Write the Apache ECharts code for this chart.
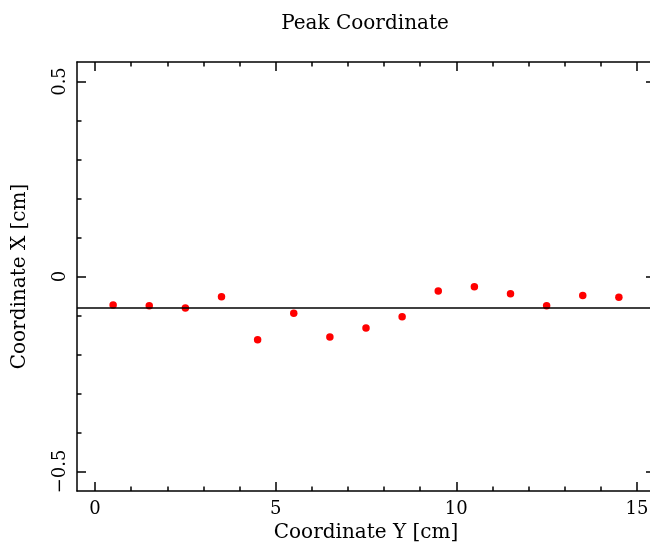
<!DOCTYPE html>
<html>
<head>
<meta charset="utf-8">
<script src="https://cdn.jsdelivr.net/npm/echarts@6/dist/echarts.min.js"></script>
<style>html,body{margin:0;padding:0;background:#fff}#c{width:650px;height:542px}</style>
</head>
<body>
<div id="c"></div>
<script>
const xPositions = [0.5, 1.5, 2.5, 3.5, 4.5, 5.5, 6.5, 7.5, 8.5, 9.5, 10.5, 11.5, 12.5, 13.5, 14.5];
const yValues = [-0.073, -0.075, -0.081, -0.052, -0.162, -0.094, -0.155, -0.132, -0.103, -0.037, -0.026, -0.044, -0.075, -0.049, -0.053];
const lineLevel = -0.08;
const xMajorTicks = [0, 5, 10, 15];
const xMinorTicks = [0,1,2,3,4,5,6,7,8,9,10,11,12,13,14,15];
const yMajorTicks = [-0.5, 0, 0.5];
const yMinorTicks = [-0.5,-0.4,-0.3,-0.2,-0.1,0,0.1,0.2,0.3,0.4,0.5];
const xRange = [-0.5, 15.5];
const yRange = [-0.55, 0.55];

const FONT = 'DejaVu Serif';
const black = '#000';

function xAx(pos, ticks, len, showLine, showLabel, extra) {
  return Object.assign({
    type: 'value', position: pos, min: xRange[0], max: xRange[1],
    splitLine: {show: false},
    axisLine: {show: showLine, onZero: false, lineStyle: {color: black, width: 1.5}},
    axisTick: {show: true, inside: true, length: len, customValues: ticks, lineStyle: {color: black, width: 1.5}},
    axisLabel: {show: showLabel, customValues: ticks, color: black, fontFamily: FONT, fontSize: 18, margin: 9},
    minorTick: {show: false}
  }, extra || {});
}
function yAx(pos, ticks, len, showLine, showLabel, extra) {
  return Object.assign({
    type: 'value', position: pos, min: yRange[0], max: yRange[1],
    splitLine: {show: false},
    axisLine: {show: showLine, onZero: false, lineStyle: {color: black, width: 1.5}},
    axisTick: {show: true, inside: true, length: len, customValues: ticks, lineStyle: {color: black, width: 1.5}},
    axisLabel: {show: showLabel, customValues: ticks, rotate: 90, color: black, fontFamily: FONT, fontSize: 18, margin: 8,
      formatter: v => String(v).replace('-', '\u2212')},
    minorTick: {show: false}
  }, extra || {});
}

const chart = echarts.init(document.getElementById('c'));
chart.setOption({
  animation: false,
  backgroundColor: '#fff',
  title: {
    text: 'Peak Coordinate', left: 360, top: 9, textAlign: 'center',
    textStyle: {fontFamily: FONT, fontSize: 20, fontWeight: 'normal', color: black}
  },
  grid: {left: 77, top: 62, width: 578, height: 429, containLabel: false, outerBoundsMode: 'none'},
  xAxis: [
    xAx('bottom', xMajorTicks, 9, true, true, {
      name: 'Coordinate Y [cm]', nameLocation: 'middle', nameGap: 31,
      nameTextStyle: {fontFamily: FONT, fontSize: 20, color: black}
    }),
    xAx('bottom', xMinorTicks, 4.5, false, false),
    xAx('top', xMajorTicks, 9, true, false),
    xAx('top', xMinorTicks, 4.5, false, false)
  ],
  yAxis: [
    yAx('left', yMajorTicks, 9, true, true, {
      name: 'Coordinate X [cm]', nameLocation: 'middle', nameGap: 47,
      nameTextStyle: {fontFamily: FONT, fontSize: 20, color: black}
    }),
    yAx('left', yMinorTicks, 4.5, false, false),
    yAx('right', yMajorTicks, 9, true, false),
    yAx('right', yMinorTicks, 4.5, false, false)
  ],
  series: [{
    type: 'scatter', xAxisIndex: 0, yAxisIndex: 0,
    symbol: 'circle', symbolSize: 7.5,
    itemStyle: {color: '#ff0000', opacity: 1},
    data: xPositions.map((x, i) => [x, yValues[i]]),
    markLine: {
      silent: true, symbol: 'none', animation: false,
      label: {show: false},
      lineStyle: {color: black, type: 'solid', width: 1.5},
      data: [{yAxis: lineLevel}]
    }
  }]
});
</script>
</body>
</html>
